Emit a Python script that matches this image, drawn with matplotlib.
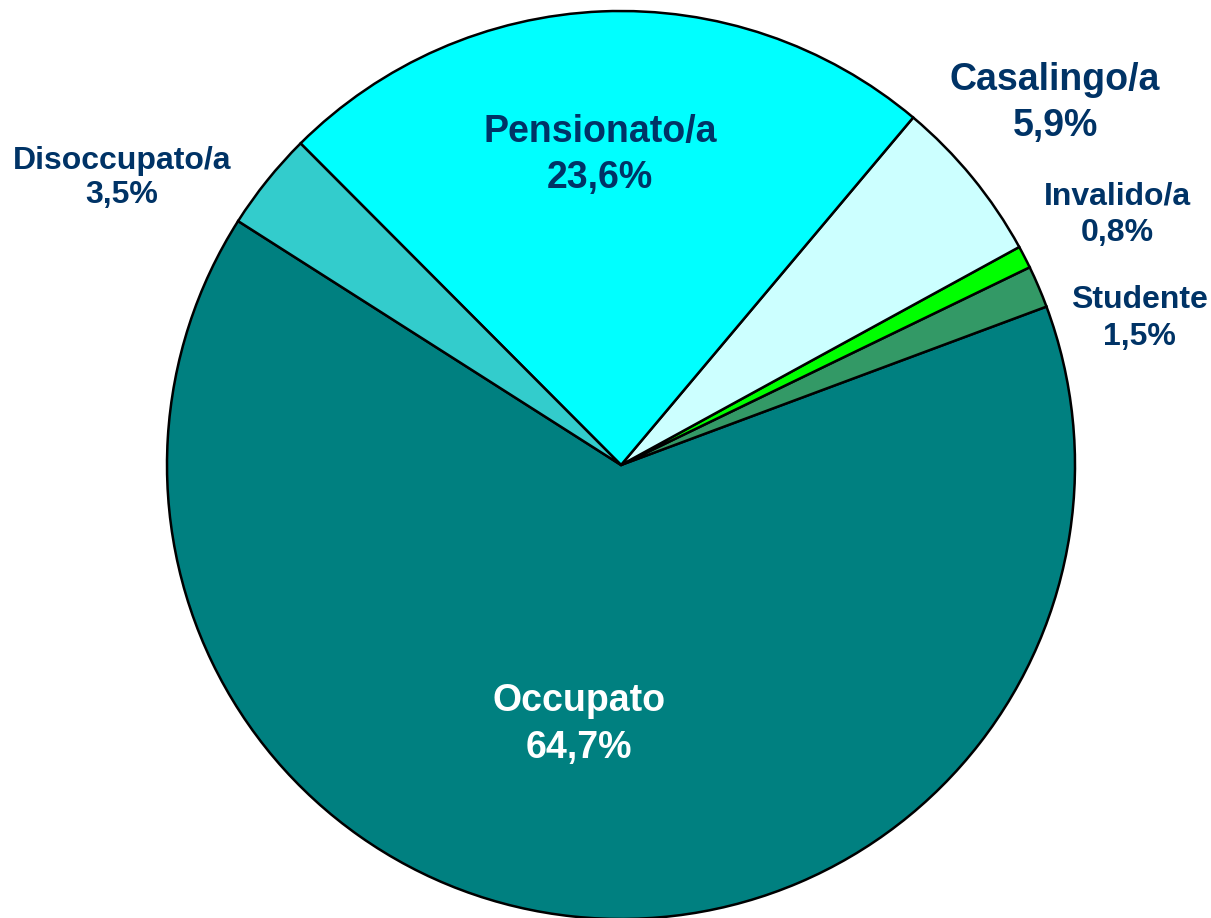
import matplotlib.pyplot as plt

categories = ['Occupato', 'Studente', 'Invalido/a', 'Casalingo/a', 'Pensionato/a', 'Disoccupato/a']
values = [64.7, 1.5, 0.8, 5.9, 23.6, 3.5]
colors = ['#008080', '#339966', '#00FF00', '#CCFFFF', '#00FFFF', '#33CCCC']

# label placement (data units, pie radius = 1) and style
label_pos = [(-0.092, -0.572), (1.143, 0.322), (1.093, 0.551), (0.956, 0.797), (-0.046, 0.683), (-1.099, 0.632)]
label_size = [27, 23, 23, 27, 27, 23]
label_space = [1.38, 1.3, 1.28, 1.35, 1.35, 1.2]
label_color = ['white', '#003366', '#003366', '#003366', '#003366', '#003366']

W, H = 1211, 918
cx, cy, r = 621, 465, 454

fig = plt.figure(figsize=(W / 100, H / 100), dpi=100)
ax = fig.add_axes([0, 0, 1, 1])

ax.pie(values, colors=colors, startangle=147.5, counterclock=True,
       wedgeprops=dict(edgecolor='black', linewidth=1.8))

for name, v, (x, y), fs, ls, c in zip(categories, values, label_pos, label_size, label_space, label_color):
    txt = f'{name}\n{v:.1f}%'.replace('.', ',')
    ax.text(x, y, txt, ha='center', va='center', fontsize=fs, fontweight='bold',
            color=c, family='Liberation Sans', linespacing=ls)

ax.set_xlim(-cx / r, (W - cx) / r)
ax.set_ylim((cy - H) / r, cy / r)
ax.set_aspect('equal')
ax.axis('off')

fig.savefig('out.png', dpi=100)
